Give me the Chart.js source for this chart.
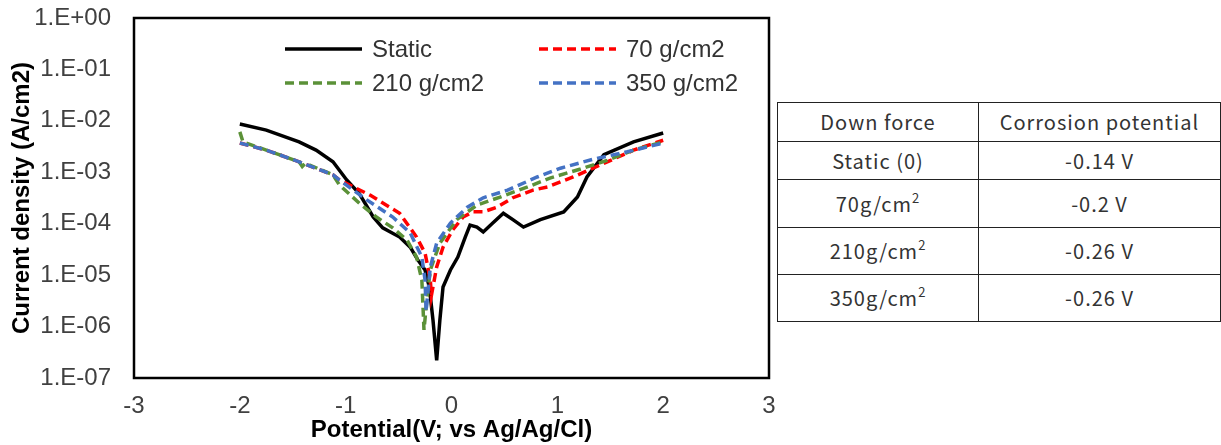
<!DOCTYPE html>
<html>
<head>
<meta charset="utf-8">
<script src="https://cdn.jsdelivr.net/npm/chart.js@4.4.1/dist/chart.umd.min.js"></script>
<style>
  html, body { margin: 0; padding: 0; background: #fff; }
  #wrap { position: relative; width: 1221px; height: 445px; overflow: hidden; }
  #plot { position: absolute; left: 0; top: 0; }
  #tbl { position: absolute; left: 777px; top: 102px; width: 444px; border-collapse: collapse;
         font-family: "Noto Sans CJK JP"; font-size: 20px; color: #333; letter-spacing: 1px; }
  #tbl td { border: 1px solid #222; text-align: center; padding: 0; line-height: 1; }
  #tbl sup { font-size: 13px; line-height: 0; vertical-align: 9px; }
</style>
</head>
<body>
<div id="wrap">
  <canvas id="plot" width="776" height="445"></canvas>
  <table id="tbl"></table>
</div>
<script>
// series labels (legend)
var seriesLabels = ['Static', '70 g/cm2', '210 g/cm2', '350 g/cm2'];

// potential (V) and current density (A/cm2)
var potStatic = [-2.0, -1.75, -1.44, -1.28, -1.12, -0.99, -0.87, -0.74, -0.65, -0.49, -0.39, -0.32, -0.25, -0.21, -0.175, -0.14, -0.11, -0.08, -0.01, 0.06, 0.13, 0.175, 0.24, 0.30, 0.39, 0.49, 0.58, 0.68, 0.84, 1.06, 1.19, 1.28, 1.44, 1.72, 2.0];
var curStatic = [8.7e-3, 6.6e-3, 3.9e-3, 2.7e-3, 1.6e-3, 7.1e-4, 3.8e-4, 1.35e-4, 8.3e-5, 5.5e-5, 3.5e-5, 2.0e-5, 1.26e-5, 5.9e-6, 1.34e-6, 2.2e-7, 1.34e-6, 5.9e-6, 1.26e-5, 2.25e-5, 5.5e-5, 9.4e-5, 8.6e-5, 6.9e-5, 1.03e-4, 1.6e-4, 1.2e-4, 8.6e-5, 1.2e-4, 1.7e-4, 3.3e-4, 8.1e-4, 2.2e-3, 3.9e-3, 5.8e-3];

var pot70 = [-2.0, -1.75, -1.44, -1.12, -1.06, -0.77, -0.49, -0.33, -0.25, -0.20, -0.19, -0.14, -0.08, 0.01, 0.11, 0.20, 0.30, 0.43, 0.58, 0.77, 0.91, 1.15, 1.41, 1.72, 2.0];
var cur70 = [3.7e-3, 2.7e-3, 1.6e-3, 8.9e-4, 7.1e-4, 3.6e-4, 1.6e-4, 5.5e-5, 2.7e-5, 8.0e-6, 4.0e-6, 1.44e-5, 3.5e-5, 7.5e-5, 1.35e-4, 1.7e-4, 1.7e-4, 2.1e-4, 3.2e-4, 4.5e-4, 5.2e-4, 8.1e-4, 1.4e-3, 2.7e-3, 4.2e-3];

var pot210 = [-2.0, -1.97, -1.75, -1.44, -1.41, -1.38, -1.12, -1.06, -0.87, -0.71, -0.555, -0.42, -0.33, -0.28, -0.26, -0.23, -0.20, -0.11, 0.05, 0.24, 0.46, 0.72, 0.93, 1.22, 1.47, 1.72, 2.0];
var cur210 = [6.1e-3, 3.9e-3, 2.7e-3, 1.6e-3, 1.3e-3, 1.5e-3, 8.9e-4, 5.7e-4, 2.5e-4, 1.35e-4, 8.3e-5, 4.8e-5, 2.25e-5, 8.0e-6, 8.6e-7, 3.8e-6, 1.26e-5, 4.2e-5, 1.2e-4, 2.3e-4, 3.3e-4, 5.2e-4, 7.7e-4, 1.16e-3, 1.7e-3, 2.7e-3, 3.9e-3];

var pot350 = [-2.0, -1.75, -1.44, -1.12, -1.06, -0.80, -0.555, -0.39, -0.28, -0.25, -0.24, -0.20, -0.14, -0.01, 0.15, 0.30, 0.53, 0.81, 1.03, 1.34, 1.66, 2.0];
var cur350 = [3.7e-3, 2.7e-3, 1.6e-3, 8.9e-4, 7.1e-4, 2.9e-4, 1.35e-4, 6.6e-5, 2.25e-5, 8.0e-6, 2.0e-6, 1.44e-5, 4.2e-5, 1.03e-4, 2.1e-4, 3.2e-4, 4.5e-4, 8.1e-4, 1.2e-3, 1.8e-3, 2.5e-3, 3.7e-3];

// axis ticks
var xMin = -3, xMax = 3;
var yTickValues = [1e-7, 1e-6, 1e-5, 1e-4, 1e-3, 1e-2, 1e-1, 1];
var yTickLabels = ['1.E-07', '1.E-06', '1.E-05', '1.E-04', '1.E-03', '1.E-02', '1.E-01', '1.E+00'];

// table on the right
var tableHead = ['Down force', 'Corrosion potential'];
var forceNames = ['Static (0)', '70g/cm', '210g/cm', '350g/cm'];
var corrosionV = [-0.14, -0.2, -0.26, -0.26];

function pts(xs, ys) {
  return xs.map(function (x, i) { return { x: x, y: ys[i] }; });
}

var tbl = document.getElementById('tbl');
var rowH = [38, 37, 47, 46, 46];
var html = '<tr><td style="width:200px;height:' + rowH[0] + 'px">' + tableHead[0] + '</td><td style="height:' + rowH[0] + 'px">' + tableHead[1] + '</td></tr>';
forceNames.forEach(function (n, i) {
  var name = i === 0 ? n : n + '<sup>2</sup>';
  html += '<tr><td style="height:' + rowH[i + 1] + 'px">' + name + '</td><td>' + corrosionV[i] + ' V</td></tr>';
});
tbl.innerHTML = html;

var frame = {
  id: 'frame',
  beforeDatasetsDraw: function (chart) {
    var a = chart.chartArea, ctx = chart.ctx;
    ctx.save();
    ctx.strokeStyle = '#000';
    ctx.lineWidth = 2.5;
    ctx.strokeRect(a.left, a.top, a.right - a.left, a.bottom - a.top);
    ctx.restore();
  }
};

var boxLegend = {
  id: 'boxLegend',
  afterDraw: function (chart, args, opts) {
    var ctx = chart.ctx;
    chart.data.datasets.forEach(function (ds, i) {
      var p = opts.slots[i];
      ctx.save();
      ctx.strokeStyle = ds.borderColor;
      ctx.lineWidth = ds.borderWidth;
      ctx.setLineDash(ds.borderDash || []);
      ctx.beginPath();
      ctx.moveTo(p.x, p.y);
      ctx.lineTo(p.x + opts.lineLen, p.y);
      ctx.stroke();
      ctx.setLineDash([]);
      ctx.fillStyle = opts.color;
      ctx.font = opts.font;
      ctx.textBaseline = 'middle';
      ctx.fillText(ds.label, p.x + opts.lineLen + opts.gap, p.y + 1);
      ctx.restore();
    });
  }
};

var ctx = document.getElementById('plot');
var chart = new Chart(ctx, {
  type: 'line',
  data: {
    datasets: [
      { label: seriesLabels[0], data: pts(potStatic, curStatic), borderColor: '#000000', borderWidth: 3.5, borderDash: [], order: 4 },
      { label: seriesLabels[1], data: pts(pot70, cur70), borderColor: '#FF0000', borderWidth: 3.5, borderDash: [9, 5], order: 3 },
      { label: seriesLabels[2], data: pts(pot210, cur210), borderColor: '#5B9138', borderWidth: 3.5, borderDash: [9, 5], order: 2 },
      { label: seriesLabels[3], data: pts(pot350, cur350), borderColor: '#4472C4', borderWidth: 3.5, borderDash: [9, 5], order: 1 }
    ]
  },
  options: {
    responsive: false,
    animation: false,
    elements: { point: { radius: 0 }, line: { tension: 0, borderCapStyle: 'butt' } },
    layout: { padding: { top: 18, right: 7, left: 0, bottom: 0 } },
    plugins: {
      legend: { display: false },
      tooltip: { enabled: false },
      boxLegend: {
        slots: [{ x: 285, y: 49 }, { x: 539, y: 49 }, { x: 285, y: 83 }, { x: 539, y: 83 }],
        lineLen: 77, gap: 10, color: '#333', font: '24px "Liberation Sans"'
      }
    },
    scales: {
      x: {
        type: 'linear', min: xMin, max: xMax,
        ticks: { stepSize: 1, color: '#404040', font: { family: 'Liberation Sans', size: 24 }, padding: 14 },
        grid: { display: false, drawTicks: false },
        border: { display: false },
        title: { display: true, text: 'Potential(V; vs Ag/Ag/Cl)', color: '#000',
                 font: { family: 'Liberation Sans', size: 24, weight: 'bold' }, padding: 0 },
        afterFit: function (s) { s.height = 67; s.paddingLeft = 0; s.paddingRight = 0; }
      },
      y: {
        type: 'logarithmic', min: yTickValues[0], max: yTickValues[yTickValues.length - 1],
        afterBuildTicks: function (s) { s.ticks = yTickValues.map(function (v) { return { value: v }; }); },
        ticks: {
          color: '#404040', font: { family: 'Liberation Sans', size: 24 }, padding: 23,
          callback: function (v) { return yTickLabels[Math.round(Math.log10(v)) + 7]; }
        },
        grid: { display: false, drawTicks: false },
        border: { display: false },
        title: { display: true, text: 'Current density (A/cm2)', color: '#000',
                 font: { family: 'Liberation Sans', size: 24, weight: 'bold' }, padding: { top: 8, bottom: 8 } },
        afterFit: function (s) { s.width = 134; s.paddingTop = 0; s.paddingBottom = 0; }
      }
    }
  },
  plugins: [frame, boxLegend]
});
</script>
</body>
</html>
